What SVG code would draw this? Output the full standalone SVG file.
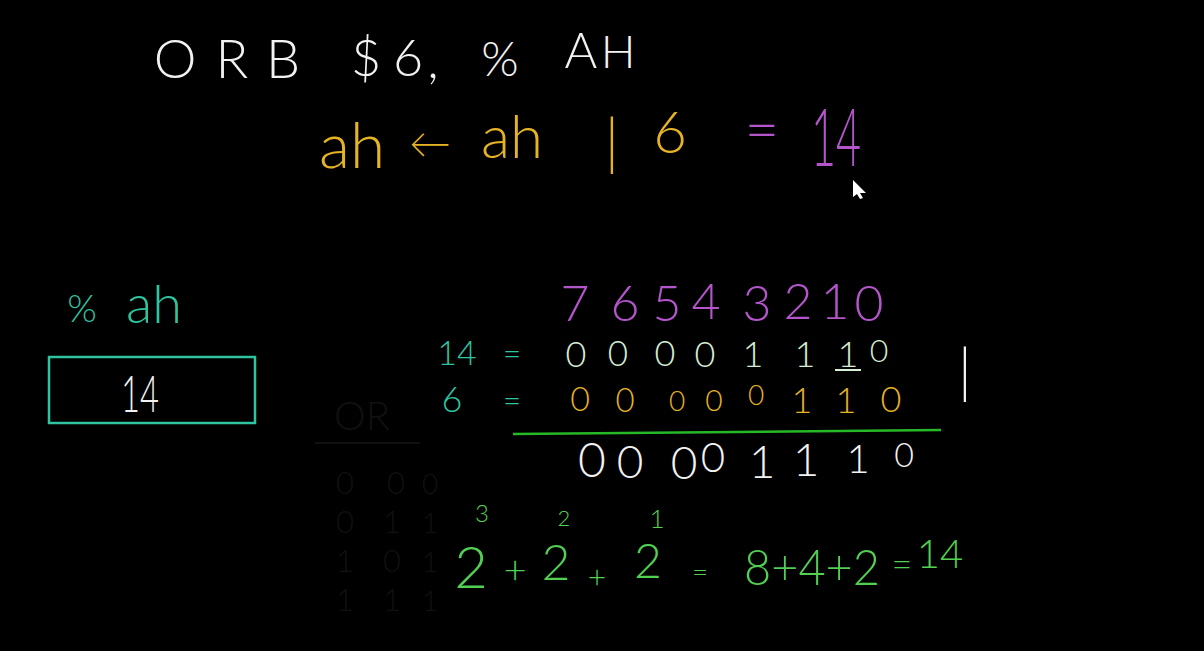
<svg xmlns="http://www.w3.org/2000/svg" width="1204" height="651" viewBox="0 0 1204 651">
<style>
text{font-family:Lato,"Open Sans","Liberation Sans",sans-serif;font-weight:300;text-anchor:middle}
.w{fill:#f2f2f2}
.y{fill:#e6b325}
.p{fill:#b455cc}
.t{fill:#2ec4a0}
.g{fill:#52d052}
.lg{fill:#d6eed4}
.ghost{fill:#111}
</style>
<rect width="1204" height="651" fill="#000"/>
<g id="ghost-table">
<text class="ghost" x="362" y="430" font-size="40">OR</text>
<line x1="315" y1="443" x2="420" y2="443" stroke="#111" stroke-width="2"/>
<text class="ghost" x="345" y="494" font-size="31">0</text><text class="ghost" x="396" y="494" font-size="31">0</text><text class="ghost" x="430" y="494" font-size="28">0</text>
<text class="ghost" x="345" y="533" font-size="31">0</text><text class="ghost" x="392" y="533" font-size="31">1</text><text class="ghost" x="430" y="533" font-size="28">1</text>
<text class="ghost" x="345" y="572" font-size="31">1</text><text class="ghost" x="392" y="572" font-size="31">0</text><text class="ghost" x="430" y="572" font-size="28">1</text>
<text class="ghost" x="345" y="611" font-size="31">1</text><text class="ghost" x="392" y="611" font-size="31">1</text><text class="ghost" x="430" y="611" font-size="28">1</text>
</g>
<g id="title">
<text class="w" x="175" y="78" font-size="54">O</text>
<text class="w" x="232" y="78" font-size="54">R</text>
<text class="w" x="283" y="78" font-size="54">B</text>
<text class="w" x="366" y="76" font-size="52">$</text>
<text class="w" x="408" y="76" font-size="52">6</text>
<text class="w" x="433" y="78" font-size="52">,</text>
<text class="w" x="500" y="76" font-size="48">%</text>
<text class="w" x="581" y="68" font-size="50">A</text>
<text class="w" x="618" y="68" font-size="46">H</text>
</g>
<g id="expression">
<text class="y" x="352" y="168" font-size="64">ah</text>
<text class="y" x="430" y="158" font-size="42">←</text>
<text class="y" x="512" y="158" font-size="60">ah</text>
<text class="y" x="612" y="163" font-size="62">|</text>
<text class="y" x="670" y="153" font-size="58">6</text>
<text class="p" x="762" y="150" font-size="60">=</text>
<text class="p" x="836" y="166" font-size="80" textLength="50" lengthAdjust="spacingAndGlyphs">14</text>
<path d="M853,180 L866,193 L860,193 L863,198 L860,199 L857,194 L853,197 Z" fill="#fff"/>
</g>
<g id="register">
<text class="t" x="82" y="322" font-size="38">%</text>
<text class="t" x="154" y="323" font-size="54">ah</text>
<rect x="49" y="357" width="206" height="66" fill="none" stroke="#2ec4a0" stroke-width="2.5"/>
<text class="w" x="140" y="412" font-size="52" textLength="38" lengthAdjust="spacingAndGlyphs">14</text>
</g>
<g id="bits">
<text class="p" x="575" y="321" font-size="50">7</text>
<text class="p" x="625" y="321" font-size="50">6</text>
<text class="p" x="667" y="321" font-size="50">5</text>
<text class="p" x="706" y="319" font-size="50">4</text>
<text class="p" x="757" y="321" font-size="50">3</text>
<text class="p" x="798" y="319" font-size="50">2</text>
<text class="p" x="835" y="319" font-size="50">1</text>
<text class="p" x="869" y="321" font-size="50">0</text>
</g>
<g id="row14">
<text class="t" x="457" y="365" font-size="34">14</text>
<text class="t" x="512" y="365" font-size="32">=</text>
<text class="lg" x="576" y="367" font-size="36">0</text>
<text class="lg" x="618" y="366" font-size="35">0</text>
<text class="lg" x="665" y="366" font-size="36">0</text>
<text class="lg" x="705" y="367" font-size="36">0</text>
<text class="lg" x="753" y="367" font-size="36">1</text>
<text class="lg" x="805" y="367" font-size="36">1</text>
<text class="lg" x="848" y="367" font-size="36">1</text>
<text class="lg" x="879" y="362" font-size="32">0</text>
<line x1="835" y1="370" x2="861" y2="370" stroke="#d6eed4" stroke-width="2"/>
<text class="w" x="965" y="392" font-size="60">|</text>
</g>
<g id="row6">
<text class="t" x="452" y="412" font-size="36">6</text>
<text class="t" x="512" y="412" font-size="32">=</text>
<text class="y" x="580" y="411" font-size="34">0</text>
<text class="y" x="625" y="412" font-size="33">0</text>
<text class="y" x="677" y="411" font-size="28">0</text>
<text class="y" x="714" y="411" font-size="30">0</text>
<text class="y" x="756" y="405" font-size="28">0</text>
<text class="y" x="802" y="413" font-size="36">1</text>
<text class="y" x="846" y="413" font-size="36">1</text>
<text class="y" x="891" y="412" font-size="36">0</text>
</g>
<line id="sumline" x1="513" y1="434" x2="941" y2="430" stroke="#27b827" stroke-width="2.5"/>
<g id="result">
<text class="w" x="592" y="477" font-size="48">0</text>
<text class="w" x="630" y="478" font-size="46">0</text>
<text class="w" x="684" y="479" font-size="46">0</text>
<text class="w" x="713" y="472" font-size="42">0</text>
<text class="w" x="762" y="478" font-size="46">1</text>
<text class="w" x="806" y="476" font-size="46">1</text>
<text class="w" x="858" y="473" font-size="40">1</text>
<text class="w" x="904" y="467" font-size="34">0</text>
</g>
<g id="sum">
<text class="g" x="471" y="588" font-size="58">2</text>
<text class="g" x="482" y="522" font-size="24">3</text>
<text class="g" x="515" y="584" font-size="40">+</text>
<text class="g" x="556" y="580" font-size="50">2</text>
<text class="g" x="564" y="526" font-size="22">2</text>
<text class="g" x="597" y="588" font-size="32">+</text>
<text class="g" x="648" y="578" font-size="48">2</text>
<text class="g" x="657" y="528" font-size="26">1</text>
<text class="g" x="700" y="582" font-size="28">=</text>
<text class="g" x="812" y="585" font-size="50" textLength="136" lengthAdjust="spacingAndGlyphs">8+4+2</text>
<text class="g" x="902" y="577" font-size="36">=</text>
<text class="g" x="940" y="568" font-size="40">14</text>
</g>
</svg>
